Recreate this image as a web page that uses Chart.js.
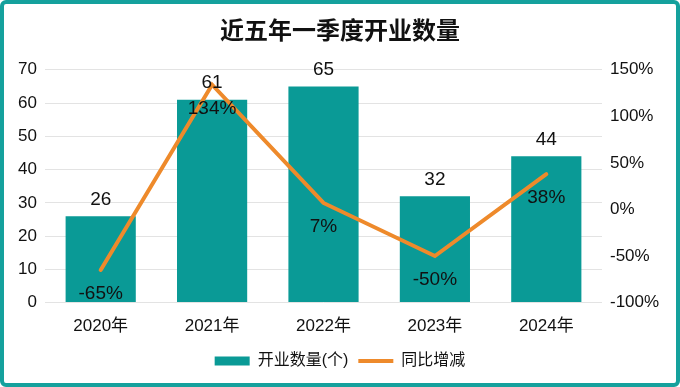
<!DOCTYPE html>
<html>
<head>
<meta charset="utf-8">
<script src="https://cdn.jsdelivr.net/npm/chart.js@4/dist/chart.umd.min.js"></script>
<style>
  body { margin: 0; background: #fff; }
  #wrap { position: relative; width: 680px; height: 387px; }
  #frame {
    position: absolute; left: 0; top: 0; width: 680px; height: 387px;
    box-sizing: border-box; border: 4px solid #15a19d; border-radius: 6px;
    pointer-events: none;
  }
</style>
</head>
<body>
<div id="wrap">
  <canvas id="chart" width="680" height="387"></canvas>
  <div id="frame"></div>
</div>
<script>
/*==== data ====*/
const years = ['2020年', '2021年', '2022年', '2023年', '2024年'];
const openCount = [26, 61, 65, 32, 44];
const yoyChange = [-0.65, 1.34, 0.07, -0.50, 0.38];

const FONT = "'Liberation Sans', 'Noto Sans CJK SC', sans-serif";
const barColor = '#0a9a96';
const lineColor = '#ee8a2b';

/*==== labels on bars and points ====*/
const valueLabels = {
    id: 'valueLabels',
    afterDatasetsDraw(chart) {
        const ctx = chart.ctx;
        ctx.save();
        ctx.font = '19px ' + FONT;
        ctx.fillStyle = '#111';
        ctx.textAlign = 'center';

        chart.getDatasetMeta(0).data.forEach(function(bar, i) {
            ctx.textBaseline = 'bottom';
            ctx.fillText(openCount[i], bar.x, bar.y - 7);
        });
        chart.getDatasetMeta(1).data.forEach(function(pt, i) {
            ctx.textBaseline = 'middle';
            ctx.fillText(Math.round(yoyChange[i] * 100) + '%', pt.x, pt.y + 24);
        });
        ctx.restore();
    }
};

var config = {
    data: {
        labels: years,
        datasets: [
            {
                type: 'bar',
                label: '开业数量(个)',
                data: openCount,
                backgroundColor: barColor,
                borderWidth: 0,
                categoryPercentage: 0.63,
                barPercentage: 1,
                yAxisID: 'y',
                pointStyle: 'rect',
                order: 2
            },
            {
                type: 'line',
                label: '同比增减',
                data: yoyChange,
                borderColor: lineColor,
                backgroundColor: lineColor,
                borderWidth: 4,
                borderCapStyle: 'round',
                borderJoinStyle: 'miter',
                pointRadius: 0,
                pointStyle: 'line',
                tension: 0,
                yAxisID: 'y1',
                order: 1
            }
        ]
    },
    options: {
        responsive: false,
        animation: false,
        layout: { padding: { top: 8, bottom: 8, left: 0, right: 0 } },
        plugins: {
            title: {
                display: true,
                text: '近五年一季度开业数量',
                color: '#111',
                font: { family: FONT, size: 24, weight: 'bold' },
                padding: { top: 10, bottom: 23 }
            },
            legend: {
                position: 'bottom',
                labels: {
                    color: '#111',
                    font: { family: FONT, size: 16 },
                    usePointStyle: true,
                    pointStyleWidth: 35,
                    boxWidth: 35,
                    boxHeight: 9,
                    padding: 10,
                    sort: function(a, b) { return a.datasetIndex - b.datasetIndex; }
                }
            },
            tooltip: { enabled: false }
        },
        scales: {
            x: {
                grid: { display: false },
                border: { display: false },
                ticks: { color: '#111', font: { family: FONT, size: 17 }, padding: 6 }
            },
            y: {
                position: 'left',
                min: 0,
                max: 70,
                ticks: { stepSize: 10, color: '#111', font: { family: FONT, size: 17 }, padding: 8 },
                grid: { color: '#e3e3e3', drawTicks: false },
                border: { display: false },
                afterFit: function(scale) { scale.width = 45; }
            },
            y1: {
                position: 'right',
                min: -1,
                max: 1.5,
                ticks: {
                    stepSize: 0.5,
                    color: '#111',
                    font: { family: FONT, size: 17 },
                    padding: 8,
                    callback: function(v) { return Math.round(v * 100) + '%'; }
                },
                grid: { display: false, drawTicks: false },
                border: { display: false },
                afterFit: function(scale) { scale.width = 78; }
            }
        }
    },
    plugins: [valueLabels]
};

var openChart = new Chart(document.querySelector('#chart'), config);
</script>
</body>
</html>
